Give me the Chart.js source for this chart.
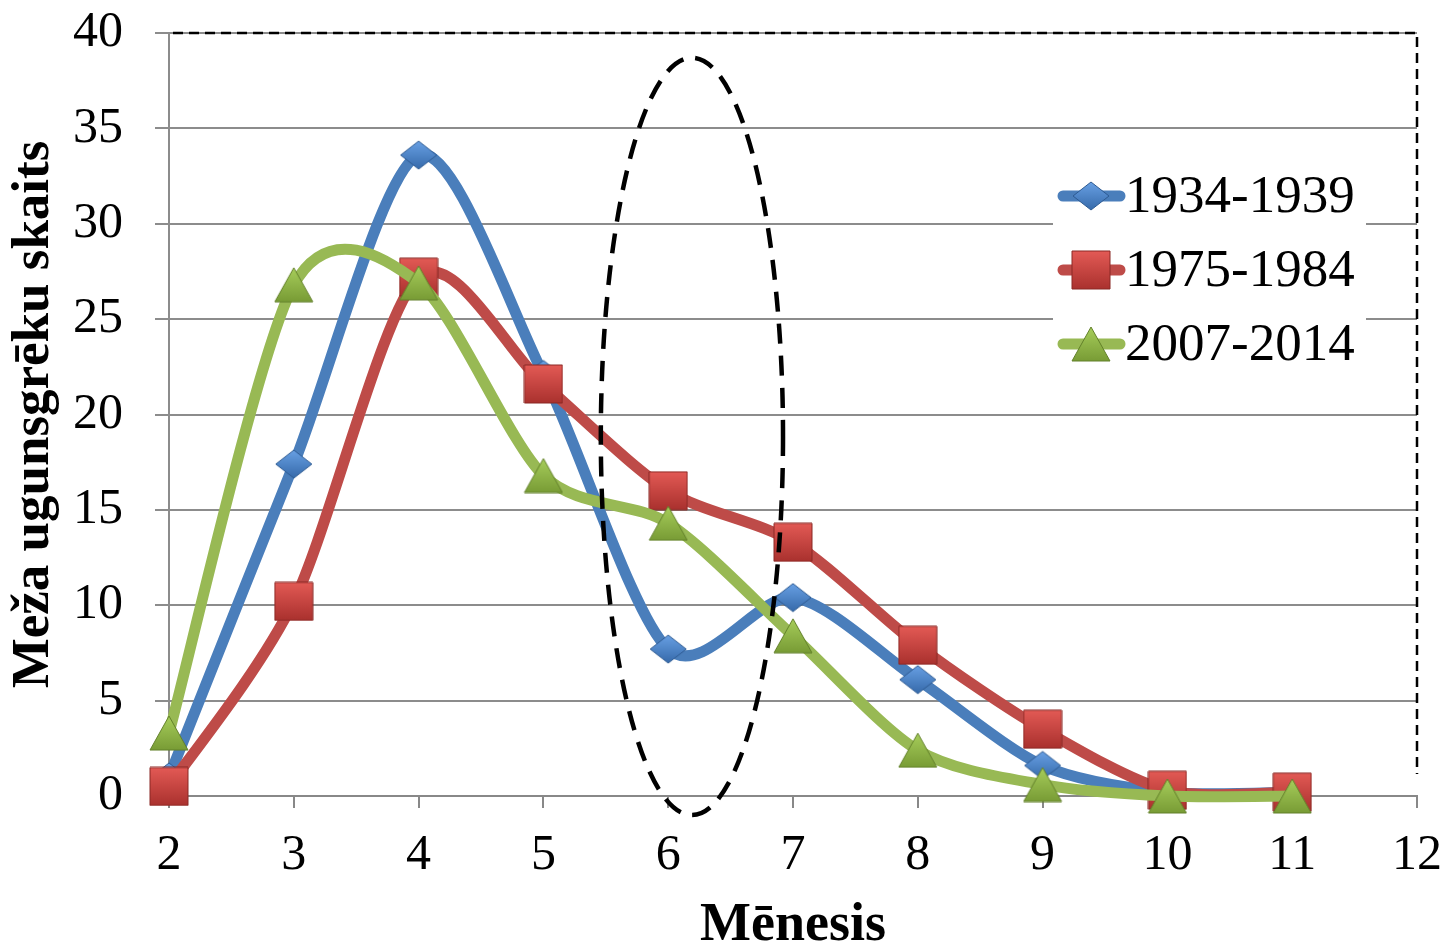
<!DOCTYPE html>
<html lang="lv">
<head>
<meta charset="UTF-8">
<title>Meža ugunsgrēku skaits</title>
<script src="https://cdn.jsdelivr.net/npm/chart.js@4.4.1/dist/chart.umd.min.js"></script>
<style>
  html, body { margin: 0; padding: 0; background: #fff; }
  #wrap { width: 1447px; height: 947px; }
</style>
</head>
<body>
<div id="wrap"><canvas id="fires" width="1447" height="947"></canvas></div>
<script>
// data
const months = [2, 3, 4, 5, 6, 7, 8, 9, 10, 11];
const fires1934 = [1.0, 17.4, 33.6, 22.1, 7.7, 10.4, 6.1, 1.6, 0.2, 0.2];
const fires1975 = [0.5, 10.2, 27.2, 21.6, 16.0, 13.3, 7.9, 3.5, 0.3, 0.2];
const fires2007 = [3.3, 26.8, 26.9, 16.8, 14.3, 8.4, 2.4, 0.6, 0.0, 0.0];
const seriesNames = ['1934-1939', '1975-1984', '2007-2014'];
const yTicks = [0, 5, 10, 15, 20, 25, 30, 35, 40];
const xTicks = [2, 3, 4, 5, 6, 7, 8, 9, 10, 11, 12];

const FONT = "'Liberation Serif', 'Times New Roman', serif";
const SMOOTH = 0.14; // excel-like smoothing, uniform catmull-rom style

// little shaded markers like the office ones
function makeMarker(kind, w, h, light, dark, edge) {
    const c = document.createElement('canvas');
    c.width = w; c.height = h;
    const g = c.getContext('2d');
    const grad = g.createLinearGradient(0, 0, 0, h);
    grad.addColorStop(0, light);
    grad.addColorStop(1, dark);
    g.beginPath();
    if (kind === 'diamond') {
        g.moveTo(w / 2, 1); g.lineTo(w - 1, h / 2); g.lineTo(w / 2, h - 1); g.lineTo(1, h / 2);
    } else if (kind === 'square') {
        g.rect(1, 1, w - 2, h - 2);
    } else {
        g.moveTo(w / 2, 1); g.lineTo(w - 1, h - 1); g.lineTo(1, h - 1);
    }
    g.closePath();
    g.fillStyle = grad;
    g.fill();
    g.lineWidth = 1;
    g.strokeStyle = edge;
    g.stroke();
    return c;
}

const blueMark = makeMarker('diamond', 38, 30, '#6aa2e6', '#3468a8', '#2e5b92');
const redMark = makeMarker('square', 40, 40, '#e45b56', '#a8302d', '#8a2825');
const greenMark = makeMarker('triangle', 40, 36, '#a8cf5c', '#779a34', '#62802a');

const toPoints = (vals) => vals.map((v, i) => ({ x: months[i], y: v }));

// swap chart.js distance weighted control points for uniform ones
const smoothPlugin = {
    id: 'smooth',
    beforeDatasetDraw(chart, args) {
        const meta = args.meta;
        const line = meta.dataset;
        line.updateControlPoints(chart.chartArea, meta.indexAxis);
        const pts = meta.data;
        for (let i = 0; i < pts.length; i++) {
            const p = pts[i];
            const prev = pts[i - 1] || p;
            const next = pts[i + 1] || p;
            const dx = next.x - prev.x, dy = next.y - prev.y;
            p.cp1x = p.x - SMOOTH * dx;
            p.cp1y = p.y - SMOOTH * dy;
            p.cp2x = p.x + SMOOTH * dx;
            p.cp2y = p.y + SMOOTH * dy;
        }
    }
};

// dashed ellipse marking June
const ovalPlugin = {
    id: 'oval',
    afterDatasetsDraw(chart) {
        const { ctx, scales: { x, y } } = chart;
        const cx = x.getPixelForValue(6.19), cy = y.getPixelForValue(18.85);
        const rx = x.getPixelForValue(6.19 + 0.73) - cx;
        const ry = cy - y.getPixelForValue(18.85 + 19.85);
        ctx.save();
        ctx.beginPath();
        ctx.ellipse(cx, cy, rx, ry, 0, 0, Math.PI * 2);
        ctx.setLineDash([20, 12]);
        ctx.lineWidth = 4.5;
        ctx.strokeStyle = '#000';
        ctx.stroke();
        ctx.restore();
    }
};

// dashed plot border on top and right
const borderPlugin = {
    id: 'plotBorder',
    beforeDatasetsDraw(chart) {
        const { ctx, chartArea: a } = chart;
        ctx.save();
        ctx.setLineDash([10, 6]);
        ctx.lineWidth = 2.5;
        ctx.strokeStyle = '#000';
        ctx.beginPath();
        ctx.moveTo(a.left + 4, a.top);
        ctx.lineTo(a.right, a.top);
        ctx.lineTo(a.right, a.bottom - 22);
        ctx.stroke();
        ctx.restore();
    }
};

// legend inside the plot, white box over grid
const innerLegend = {
    id: 'innerLegend',
    afterDatasetsDraw(chart) {
        const { ctx, chartArea: a } = chart;
        const boxL = a.right - 364, boxT = a.top + 127, boxW = 313, boxH = 220;
        ctx.save();
        ctx.fillStyle = '#fff';
        ctx.fillRect(boxL, boxT, boxW, boxH);
        ctx.font = '53px ' + FONT;
        ctx.textBaseline = 'middle';
        ctx.fillStyle = '#000';
        chart.data.datasets.forEach((ds, i) => {
            const cy = boxT + 36 + i * 74;
            ctx.lineWidth = 11;
            ctx.lineCap = 'round';
            ctx.strokeStyle = ds.borderColor;
            ctx.beginPath();
            ctx.moveTo(boxL + 10, cy);
            ctx.lineTo(boxL + 67, cy);
            ctx.stroke();
            const m = ds.pointStyle;
            ctx.drawImage(m, boxL + 38 - m.width / 2, cy - m.height / 2);
            ctx.fillText(ds.label, boxL + 72, cy + 2);
        });
        ctx.restore();
    }
};

const ctx = document.getElementById('fires');

new Chart(ctx, {
    type: 'line',
    data: {
        datasets: [
            {
                label: seriesNames[0],
                data: toPoints(fires1934),
                borderColor: '#4a7ebb',
                pointStyle: blueMark,
                order: 2
            },
            {
                label: seriesNames[1],
                data: toPoints(fires1975),
                borderColor: '#be4b48',
                pointStyle: redMark,
                order: 1
            },
            {
                label: seriesNames[2],
                data: toPoints(fires2007),
                borderColor: '#98b954',
                pointStyle: greenMark,
                order: 0
            }
        ]
    },
    options: {
        responsive: false,
        animation: false,
        clip: false,
        layout: { autoPadding: false, padding: { left: 0, right: 30, top: 33, bottom: 0 } },
        elements: {
            line: { borderWidth: 11, tension: 0.4, fill: false, capBezierPoints: false },
            point: { radius: 18, hoverRadius: 18, borderWidth: 0 }
        },
        plugins: {
            legend: { display: false },
            tooltip: { enabled: false }
        },
        scales: {
            x: {
                type: 'linear',
                min: 2,
                max: 12,
                afterFit(s) {
                    s.height = 151;
                    s.paddingLeft = 0; s.paddingRight = 0;
                },
                afterBuildTicks(s) { s.ticks = xTicks.map(v => ({ value: v })); },
                grid: { drawOnChartArea: false, drawTicks: true, tickLength: 12, color: '#888', lineWidth: 2 },
                border: { display: true, color: '#888', width: 2 },
                ticks: { color: '#000', font: { family: FONT, size: 50 }, padding: 18, maxRotation: 0 },
                title: {
                    display: true,
                    text: 'Mēnesis',
                    color: '#000',
                    font: { family: FONT, size: 54, weight: 'bold', lineHeight: 0.9 },
                    padding: { top: 0, bottom: -3 }
                }
            },
            y: {
                min: 0,
                max: 40,
                afterFit(s) {
                    s.width = 169;
                    s.paddingTop = 0; s.paddingBottom = 0;
                },
                afterBuildTicks(s) { s.ticks = yTicks.map(v => ({ value: v })); },
                grid: { color: '#8c8c8c', lineWidth: 2, tickLength: 14 },
                border: { display: true, color: '#8c8c8c', width: 2 },
                ticks: { color: '#000', font: { family: FONT, size: 50 }, padding: 32 },
                title: {
                    display: true,
                    text: 'Meža ugunsgrēku skaits',
                    color: '#000',
                    font: { family: FONT, size: 53, weight: 'bold', lineHeight: 1.2 },
                    padding: { top: 3, bottom: 0 }
                }
            }
        }
    },
    plugins: [smoothPlugin, borderPlugin, ovalPlugin, innerLegend]
});
</script>
</body>
</html>
